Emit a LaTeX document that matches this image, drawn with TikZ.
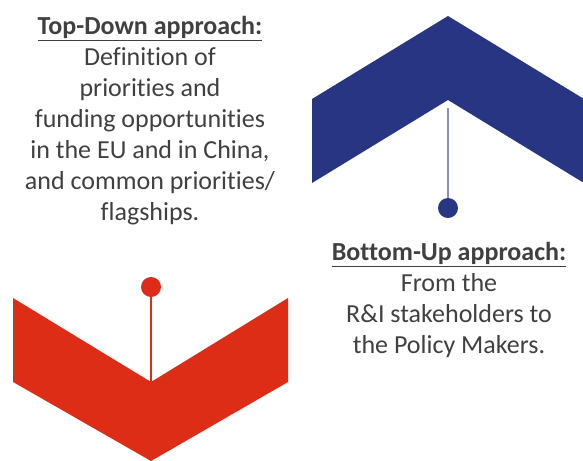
\documentclass[tikz,border=0pt]{standalone}
\usepackage{fontspec}
\setmainfont[Ligatures=NoCommon]{Carlito}
\usepackage{xcolor}
\usetikzlibrary{positioning}
\definecolor{euBlue}{HTML}{283583}
\definecolor{cnRed}{HTML}{DE2D17}
\definecolor{txtGray}{HTML}{404040}
\definecolor{stemBlue}{HTML}{8C90B4}
\tikzset{
  apptext/.style={align=center, text=txtGray, inner sep=0pt,
                  font=\fontsize{19.5}{23.2}\selectfont},
  pindot/.style={circle, fill=#1, minimum size=15pt, inner sep=0pt},
}

\begin{document}
\begin{tikzpicture}[x=0.75pt,y=-0.75pt]
        \useasboundingbox (0,0) rectangle (583,461);

        % blue chevron, pointing up
        \fill[euBlue] (312,99) -- (448,16) -- (584,99) -- (584,183) -- (448,100) -- (312,183) -- cycle;
        \coordinate (blue-tip) at (448,108);
        \node[pindot=euBlue] (blue-dot) at (448,208) {};
        \draw[stemBlue, line width=1.2pt] (blue-tip) -- (blue-dot);

        % red chevron, pointing down
        \fill[cnRed] (13,298) -- (151,382) -- (288,298) -- (288,382) -- (151,461) -- (13,382) -- cycle;
        \coordinate (red-tip) at (151,382);
        \node[pindot=cnRed] (red-dot) at (151,287) {};
        \draw[cnRed, line width=1.2pt] (red-dot) -- (red-tip);

        % texts
        \node[apptext, anchor=north] (topdown) at (150,16)
             {\textbf{\underline{Top-Down approach:}}\\
              Definition of\\
              priorities and\\
              funding opportunities\\
              in the EU and in China,\\
              and common priorities/\\
              flagships.};
        \node[apptext, anchor=north] (bottomup) at (449,242)
             {\textbf{\underline{Bottom-Up approach:}}\\
              From the\\
              R\&I stakeholders to\\
              the Policy Makers.};
\end{tikzpicture}
\end{document}
